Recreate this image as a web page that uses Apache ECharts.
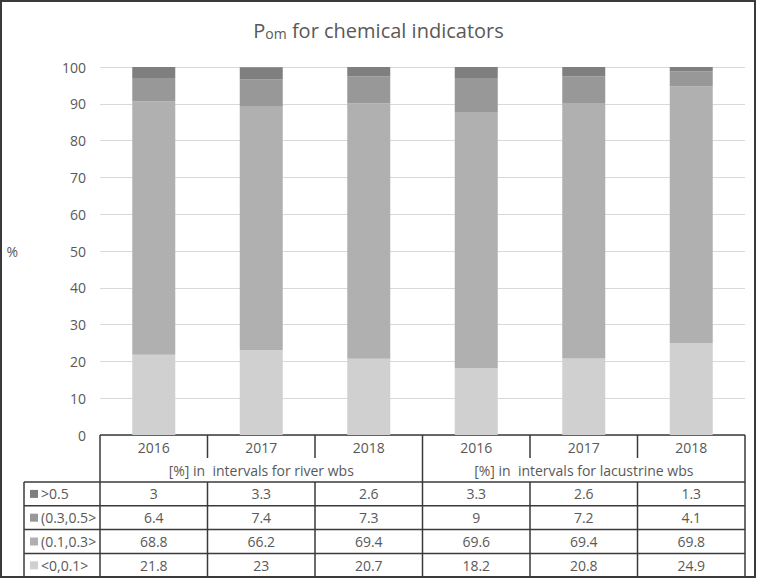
<!DOCTYPE html>
<html>
<head>
<meta charset="utf-8">
<script src="https://cdn.jsdelivr.net/npm/echarts@6/dist/echarts.min.js"></script>
<style>
html,body{margin:0;padding:0;background:#fff;}
#c{width:757px;height:578px;}
</style>
</head>
<body>
<div id="c"></div>
<script>
var categories = ['2016', '2017', '2018', '2016', '2017', '2018'];
var groupLabels = ['[%] in  intervals for river wbs', '[%] in  intervals for lacustrine wbs'];
var seriesNames = ['>0.5', '(0.3,0.5>', '(0.1,0.3>', '<0,0.1>'];
var over05 = [3, 3.3, 2.6, 3.3, 2.6, 1.3];
var from03to05 = [6.4, 7.4, 7.3, 9, 7.2, 4.1];
var from01to03 = [68.8, 66.2, 69.4, 69.6, 69.4, 69.8];
var upto01 = [21.8, 23, 20.7, 18.2, 20.8, 24.9];
var yTicks = [0, 10, 20, 30, 40, 50, 60, 70, 80, 90, 100];

var colors = ['#7f7f7f', '#989898', '#b0b0b0', '#d0d0d0'];
var rows = [over05, from03to05, from01to03, upto01];
var FONT = '"Open Sans", "Liberation Sans", sans-serif';
var TXT = '#595959';
var LINE = '#3a3a3a';

var chart = echarts.init(document.getElementById('c'), null, {renderer: 'svg'});

var stackSeries = [];
for (var k = 3; k >= 0; k--) {
  stackSeries.push({
    name: seriesNames[k],
    type: 'bar',
    stack: 'total',
    barWidth: '40%',
    itemStyle: {color: colors[k]},
    data: rows[k]
  });
}

chart.setOption({
  animation: false,
  title: {
    text: '{a|P}{b|om}{a| for chemical indicators}',
    left: 'center',
    top: 9,
    textStyle: {
      fontWeight: 'normal',
      rich: {
        a: {fontSize: 20, fontWeight: 'normal', color: TXT, fontFamily: FONT, verticalAlign: 'bottom', lineHeight: 26},
        b: {fontSize: 14, fontWeight: 'normal', color: TXT, fontFamily: FONT, verticalAlign: 'bottom', lineHeight: 22}
      }
    }
  },
  grid: {left: 100, right: 12, top: 67, bottom: 143, containLabel: false},
  xAxis: {
    type: 'category',
    data: categories,
    axisLine: {show: false},
    axisTick: {show: false},
    axisLabel: {show: false}
  },
  yAxis: {
    type: 'value',
    min: yTicks[0],
    max: yTicks[yTicks.length - 1],
    interval: 10,
    name: '%',
    nameLocation: 'middle',
    nameRotate: 0,
    nameGap: 82,
    nameTextStyle: {color: TXT, fontSize: 14, fontFamily: FONT},
    axisLine: {show: false},
    axisTick: {show: false},
    axisLabel: {color: TXT, fontSize: 14, fontFamily: FONT, margin: 14},
    splitLine: {lineStyle: {color: '#d9d9d9', width: 1}}
  },
  series: stackSeries
});

function buildTable() {
  var x0 = chart.convertToPixel({xAxisIndex: 0}, 0);
  var x1 = chart.convertToPixel({xAxisIndex: 0}, 1);
  var band = x1 - x0;
  var left = x0 - band / 2;
  var right = left + band * categories.length;
  var top = chart.convertToPixel({yAxisIndex: 0}, 0);
  var legLeft = 24;
  var headBottom = top + 47;
  var rowH = 23.8;
  var bottom = headBottom + rowH * 4;
  var els = [];
  function line(xa, ya, xb, yb) {
    els.push({type: 'line', shape: {x1: xa, y1: ya, x2: xb, y2: yb}, style: {stroke: LINE, lineWidth: 1.5}, silent: true});
  }
  function text(str, x, y, align) {
    els.push({type: 'text', x: x, y: y, style: {text: str, fill: TXT, font: '14px ' + FONT, textAlign: align || 'center', textVerticalAlign: 'middle'}, silent: true});
  }
  els.push({type: 'rect', shape: {x: 1, y: 1, width: 754, height: 576}, style: {fill: null, stroke: '#3a3a3a', lineWidth: 2}, silent: true});
  line(left, top, right, top);
  line(legLeft, headBottom, right, headBottom);
  for (var r = 1; r <= 4; r++) line(legLeft, headBottom + rowH * r, right, headBottom + rowH * r);
  line(left, top, left, bottom);
  line(right, top, right, bottom);
  line(legLeft, headBottom, legLeft, bottom);
  for (var i = 1; i < categories.length; i++) {
    var xb = left + band * i;
    if (i === 3) {
      line(xb, top, xb, bottom);
    } else {
      line(xb, top, xb, top + 23);
      line(xb, headBottom, xb, bottom);
    }
  }
  for (var j = 0; j < categories.length; j++) {
    var cx = chart.convertToPixel({xAxisIndex: 0}, j);
    text(categories[j], cx, top + 12);
  }
  text(groupLabels[0], left + band * 1.5, top + 35);
  text(groupLabels[1], left + band * 4.5, top + 35);
  for (var r2 = 0; r2 < 4; r2++) {
    var cy = headBottom + rowH * r2 + rowH / 2;
    els.push({type: 'rect', shape: {x: 30, y: cy - 4, width: 8, height: 8}, style: {fill: colors[r2]}, silent: true});
    text(seriesNames[r2], 41, cy, 'left');
    for (var j2 = 0; j2 < categories.length; j2++) {
      var cx2 = chart.convertToPixel({xAxisIndex: 0}, j2);
      text(String(rows[r2][j2]), cx2, cy);
    }
  }
  chart.setOption({graphic: {elements: els}});
}
buildTable();
</script>
</body>
</html>
